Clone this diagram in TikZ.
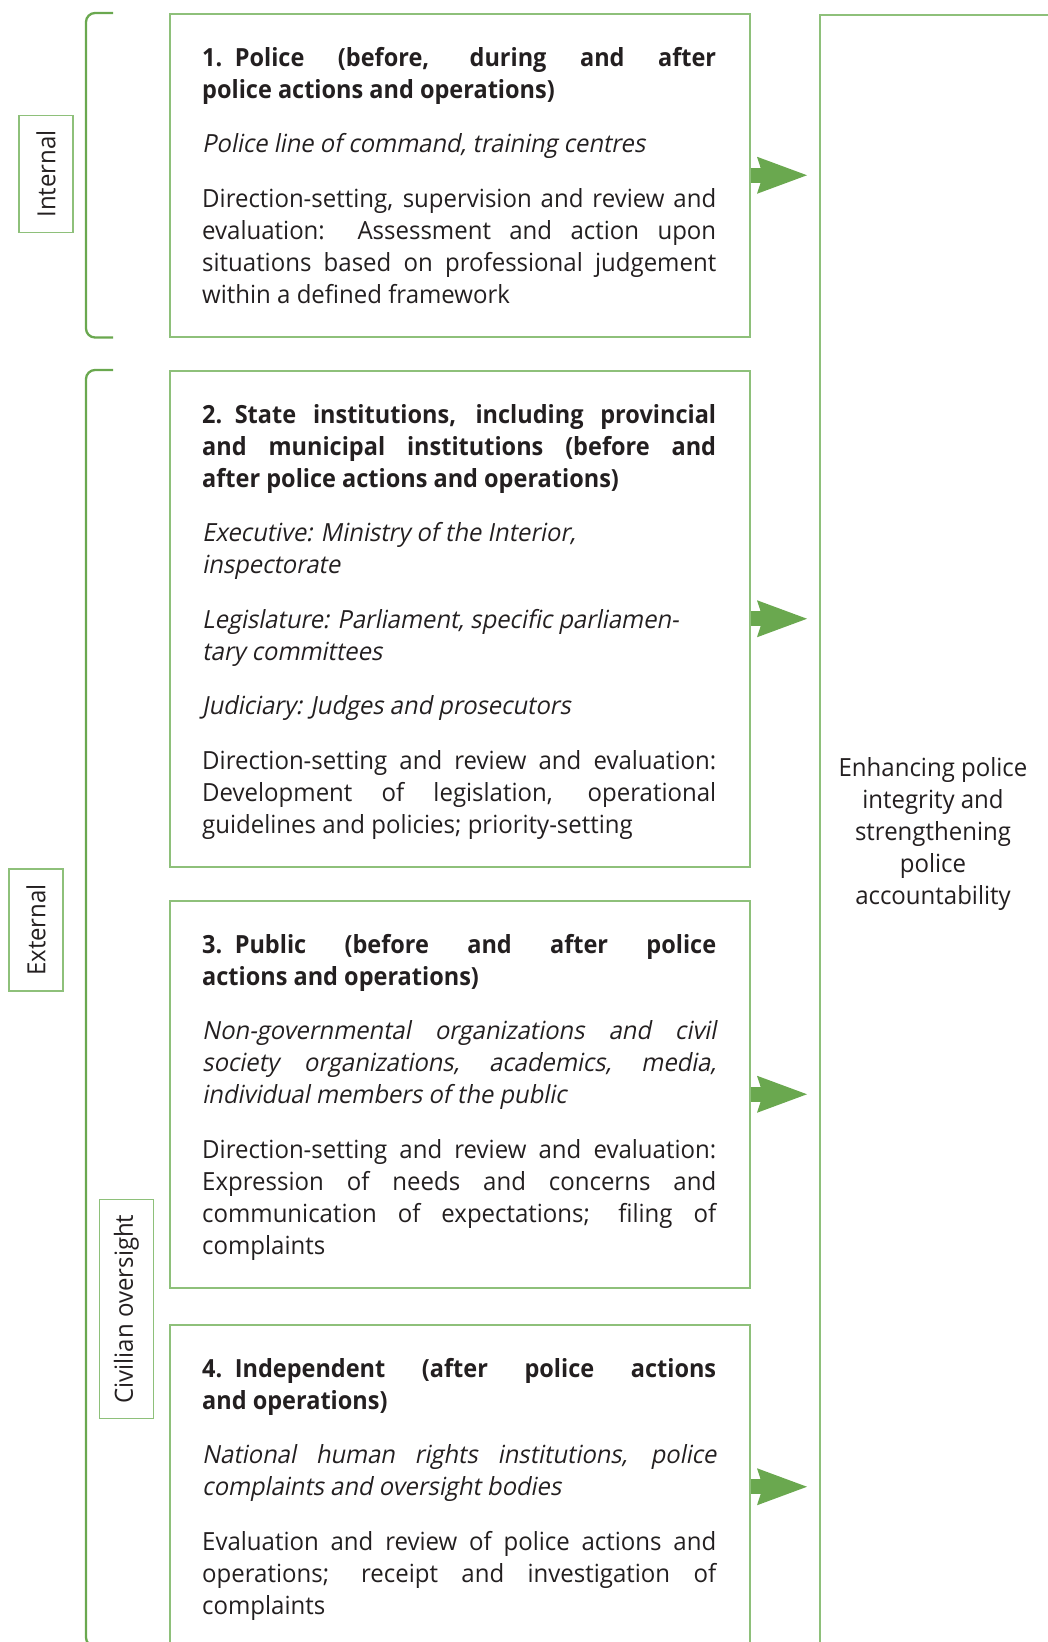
\documentclass[tikz,border=0pt]{standalone}
\usepackage{fontspec}
\setmainfont{Open Sans}[FakeStretch=0.96,
  BoldFeatures={FakeStretch=0.94},
  ItalicFont=Open Sans,ItalicFeatures={FakeSlant=0.2,FakeStretch=0.95}]
\usetikzlibrary{positioning,arrows.meta}
\definecolor{darkgreen}{HTML}{6AA84F}
\definecolor{boxgreen}{HTML}{8EC07A}
\definecolor{ink}{HTML}{231F20}
\newcommand\gap{\par\vspace{22.5pt}}
\newcommand\bodyfont{\fontsize{25}{32}\selectfont\hyphenpenalty10000\relax}
\tikzset{
  panel/.style={draw=boxgreen,line width=1.5pt,anchor=north west,inner sep=0pt,minimum width=580pt},
  body/.style={below right=34pt and 33pt of #1,inner sep=0pt,text width=514pt,align=justify,text=ink,
    font=\bodyfont},
  side/.style={draw=boxgreen,line width=1.5pt,rotate=90,minimum height=54pt,inner xsep=15pt,text=ink,
    font=\bodyfont},
  brace/.style={draw=darkgreen,line width=2.3pt,rounded corners=9pt},
  flow/.style={draw=darkgreen,line width=15pt,shorten >=12pt,
    -{Stealth[length=50pt,width=37pt,inset=6pt,line width=0pt]}}
}

\begin{document}
\begin{tikzpicture}[x=1pt,y=-1pt]
\path[use as bounding box,clip] (0,0) rectangle (1048,1642);

\node[panel,minimum height=323pt] (p1) at (169,13) {};
\node[panel,minimum height=496pt] (p2) at (169,370) {};
\node[panel,minimum height=387pt] (p3) at (169,900) {};
\node[panel,minimum height=324pt] (p4) at (169,1324) {};
\node[panel,minimum width=300pt,minimum height=1700pt] (goal) at (819,14) {};

\node[body=p1.north west] (t1) {%
{\bfseries 1.\enspace Police (before, during and after\linebreak police actions and operations)}\gap
{\itshape Police line of command, training centres}\gap
Direction-setting, supervision and review and\linebreak evaluation: Assessment and action upon\linebreak
situations based on professional judgement\linebreak within a defined framework};

\node[body=p2.north west] (t2) {%
{\bfseries 2.\enspace State institutions, including provincial\linebreak and municipal institutions (before and\linebreak
after police actions and operations)}\gap
{\itshape Executive: Ministry of the Interior,\newline inspectorate}\gap
{\itshape Legislature: Parliament, specific parliamen-\newline tary committees}\gap
{\itshape Judiciary: Judges and prosecutors}\gap
Direction-setting and review and evaluation:\linebreak Development of legislation, operational\linebreak
guidelines and policies; priority-setting};

\node[body=p3.north west] (t3) {%
{\bfseries 3.\enspace Public (before and after police\linebreak actions and operations)}\gap
{\itshape Non-governmental organizations and civil\linebreak society organizations, academics, media,\linebreak
individual members of the public}\gap
Direction-setting and review and evaluation:\linebreak Expression of needs and concerns and\linebreak
communication of expectations; filing of\linebreak complaints};

\node[body=p4.north west] (t4) {%
{\bfseries 4.\enspace Independent (after police actions\linebreak and operations)}\gap
{\itshape National human rights institutions, police\linebreak complaints and oversight bodies}\gap
Evaluation and review of police actions and\linebreak operations; receipt and investigation of\linebreak complaints};

\node[align=center,text=ink,font=\bodyfont] (aim) at (933,834)
  {Enhancing police\\integrity and\\strengthening\\police\\accountability};

\node[side] (internal) at (46,174) {Internal};
\node[side] (external) at (36,930) {External};
\node[side] (civilian) at (126.5,1309) {Civilian oversight};

\draw[brace] ([xshift=-56pt]p1.north west) -| ([xshift=-83pt]p1.south west) -- ([xshift=-56pt]p1.south west);
\draw[brace] ([xshift=-56pt]p2.north west) -| ([xshift=-83pt,yshift=3pt]p4.south west)
  -- ([xshift=-56pt,yshift=3pt]p4.south west);

\foreach \p in {p1,p2,p3,p4}
  \draw[flow] (\p.east) -- (\p.east -| goal.west);
\end{tikzpicture}
\end{document}
